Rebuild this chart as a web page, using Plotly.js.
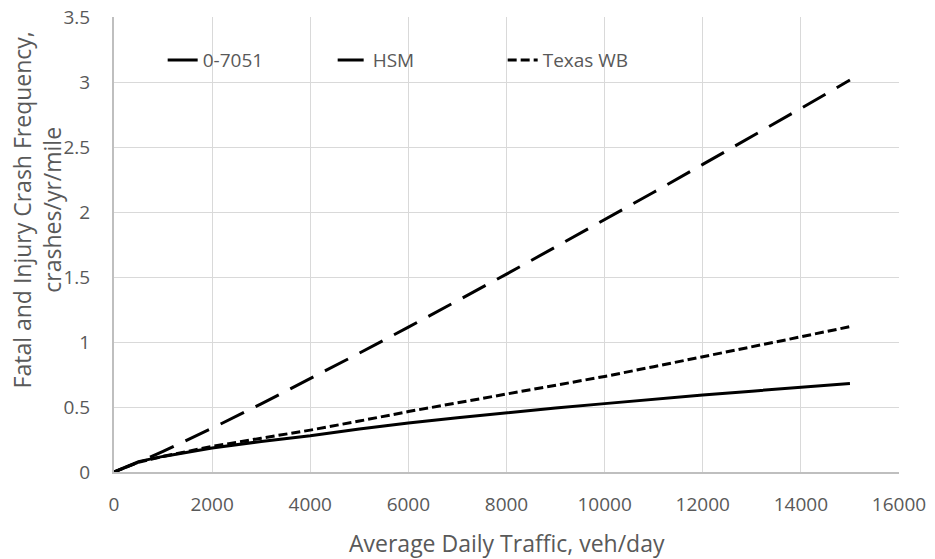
<!DOCTYPE html>
<html>
<head>
<meta charset="utf-8">
<script src="https://cdn.plot.ly/plotly-3.0.1.min.js"></script>
<style>html,body{margin:0;padding:0;background:#fff;}#chart{width:935px;height:559px;}</style>
</head>
<body>
<div id="chart"></div>
<script>
// ADT values (veh/day)
const adt = [0, 500, 1000, 1500, 2000, 3000, 4000, 5000, 6000, 7000, 8000, 9000, 10000, 11000, 12000, 13000, 14000, 15000];
// Fatal and injury crash frequency (crashes/yr/mile)
const model7051 = [0, 0.08, 0.12, 0.155, 0.185, 0.235, 0.278, 0.33, 0.377, 0.418, 0.457, 0.492, 0.526, 0.56, 0.592, 0.622, 0.65, 0.68];
const hsm = [0, 0.075, 0.159, 0.247, 0.337, 0.524, 0.717, 0.914, 1.114, 1.317, 1.522, 1.731, 1.94, 2.152, 2.366, 2.58, 2.797, 3.015];
const texasWB = [0, 0.075, 0.12, 0.16, 0.197, 0.26, 0.322, 0.392, 0.465, 0.532, 0.598, 0.665, 0.735, 0.81, 0.885, 0.96, 1.04, 1.118];
const seriesNames = ['0-7051', 'HSM', 'Texas WB'];
const xTicks = [0, 2000, 4000, 6000, 8000, 10000, 12000, 14000, 16000];
const yTicks = [0, 0.5, 1, 1.5, 2, 2.5, 3, 3.5];
const yTickText = ['0', '0.5', '1', '1.5', '2', '2.5', '3', '3.5'];

const FONT = '"Open Sans", Lato, sans-serif';
const GRAY = '#595959';

const traces = [
  {x: adt, y: model7051, name: seriesNames[0], mode: 'lines', line: {color: '#000', width: 3, dash: 'solid'}},
  {x: adt, y: hsm, name: seriesNames[1], mode: 'lines', line: {color: '#000', width: 3, dash: '26px,13px'}},
  {x: adt, y: texasWB, name: seriesNames[2], mode: 'lines', line: {color: '#000', width: 3, dash: '9px,4px'}}
];

const layout = {
  width: 935, height: 559,
  margin: {l: 114, r: 36, t: 17, b: 87},
  paper_bgcolor: '#fff', plot_bgcolor: '#fff',
  font: {family: FONT, color: GRAY, size: 19},
  showlegend: true,
  legend: {
    orientation: 'h', x: 0.062, y: 0.905, xanchor: 'left', yanchor: 'middle',
    bgcolor: 'rgba(255,255,255,0)', font: {family: FONT, size: 19, color: GRAY},
    entrywidth: 125, entrywidthmode: 'pixels', traceorder: 'normal'
  },
  xaxis: {
    range: [0, 16000], tickvals: xTicks, ticktext: xTicks.map(String),
    showgrid: true, gridcolor: '#d9d9d9', gridwidth: 1,
    zeroline: false, showline: true, linecolor: '#bfbfbf', linewidth: 2,
    ticks: '', ticklabelstandoff: 14,
    tickfont: {family: FONT, size: 19, color: GRAY}
  },
  yaxis: {
    range: [0, 3.5], tickvals: yTicks, ticktext: yTickText,
    showgrid: true, gridcolor: '#d9d9d9', gridwidth: 1,
    zeroline: false, showline: true, linecolor: '#bfbfbf', linewidth: 2,
    ticks: '', ticklabelstandoff: 18,
    tickfont: {family: FONT, size: 19, color: GRAY}
  },
  annotations: [
    {text: 'Average Daily Traffic, veh/day', xref: 'paper', yref: 'paper', x: 0.5, y: -0.156,
     xanchor: 'center', yanchor: 'middle', showarrow: false, font: {family: FONT, size: 23, color: GRAY}},
    {text: 'Fatal and Injury Crash Frequency,<br>crashes/yr/mile', xref: 'paper', yref: 'paper',
     x: -0.098, y: 0.575, xanchor: 'center', yanchor: 'middle', textangle: -90, showarrow: false,
     font: {family: FONT, size: 23, color: GRAY}}
  ]
};

Plotly.newPlot('chart', traces, layout, {displayModeBar: false, staticPlot: true});
</script>
</body>
</html>
